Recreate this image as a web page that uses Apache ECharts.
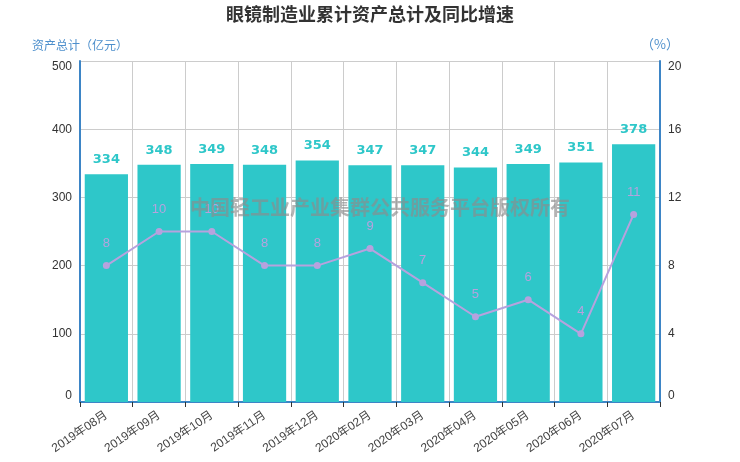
<!DOCTYPE html>
<html>
<head>
<meta charset="utf-8">
<script src="https://cdn.jsdelivr.net/npm/echarts@6/dist/echarts.min.js"></script>
<style>
  html, body { margin: 0; padding: 0; background: #fff; }
  #chart { width: 740px; height: 462px; }
</style>
</head>
<body>
<div id="chart"></div>
<script>
const months = ['2019年08月', '2019年09月', '2019年10月', '2019年11月', '2019年12月',
  '2020年02月', '2020年03月', '2020年04月', '2020年05月', '2020年06月', '2020年07月'];
const assets = [334, 348, 349, 348, 354, 347, 347, 344, 349, 351, 378];
const growth = [8, 10, 10, 8, 8, 9, 7, 5, 6, 4, 11];

const font = '"Microsoft YaHei", "Noto Sans CJK SC", sans-serif';
const numFont = 'Arial, "Liberation Sans", "Noto Sans CJK SC", sans-serif';
const axisBlue = '#3d85c6';

const chart = echarts.init(document.getElementById('chart'));

chart.setOption({
  backgroundColor: '#fff',
  textStyle: { fontFamily: font },
  title: {
    text: '眼镜制造业累计资产总计及同比增速',
    left: 'center',
    top: 0,
    textStyle: { fontSize: 18, fontWeight: 'bold', color: '#333', fontFamily: font }
  },
  grid: { left: 80, right: 80, top: 61, bottom: 60 },
  graphic: [{
    type: 'text',
    left: 190,
    top: 197,
    z: 100,
    style: {
      text: '中国轻工业产业集群公共服务平台版权所有',
      fill: 'rgba(140,140,140,0.65)',
      font: 'bold 20px ' + font
    }
  }],
  xAxis: {
    type: 'category',
    data: months,
    axisLine: { lineStyle: { color: axisBlue, width: 2 } },
    axisTick: { show: true, lineStyle: { color: '#333' } },
    axisLabel: { rotate: 34, color: '#444', fontSize: 12, margin: 12, fontFamily: numFont },
    splitLine: { show: true, lineStyle: { color: '#ccc' } }
  },
  yAxis: [{
    type: 'value',
    name: '资产总计（亿元）',
    nameGap: 10,
    nameTextStyle: { color: '#4d8fcc', fontSize: 12 },
    min: 0,
    max: 500,
    interval: 100,
    axisLine: { show: true, lineStyle: { color: axisBlue, width: 2 } },
    axisTick: { show: false },
    axisLabel: {
      color: '#333', fontSize: 12, fontFamily: numFont,
      verticalAlignMinLabel: 'bottom', verticalAlignMaxLabel: 'top'
    },
    splitLine: { lineStyle: { color: '#ccc' } }
  }, {
    type: 'value',
    name: '（%）',
    nameGap: 10,
    nameTextStyle: { color: '#4d8fcc', fontSize: 13 },
    min: 0,
    max: 20,
    interval: 4,
    axisLine: { show: true, lineStyle: { color: axisBlue, width: 2 } },
    axisTick: { show: false },
    axisLabel: {
      color: '#333', fontSize: 12, fontFamily: numFont,
      verticalAlignMinLabel: 'bottom', verticalAlignMaxLabel: 'top'
    },
    splitLine: { show: false }
  }],
  series: [{
    name: '资产总计',
    type: 'bar',
    data: assets,
    barCategoryGap: '18%',
    itemStyle: { color: '#2ec7c9' },
    label: {
      show: true,
      position: 'top',
      distance: 8,
      color: '#2ec7c9',
      fontSize: 13,
      fontWeight: 'bold',
      fontFamily: '"DejaVu Sans", Verdana, sans-serif'
    }
  }, {
    name: '同比增速',
    type: 'line',
    yAxisIndex: 1,
    data: growth,
    symbol: 'circle',
    symbolSize: 7,
    itemStyle: { color: '#b6a2de' },
    lineStyle: { color: '#b6a2de', width: 2 },
    label: {
      show: true,
      position: 'top',
      distance: 12,
      color: '#b6a2de',
      fontSize: 13,
      fontFamily: numFont
    }
  }]
});
</script>
</body>
</html>
